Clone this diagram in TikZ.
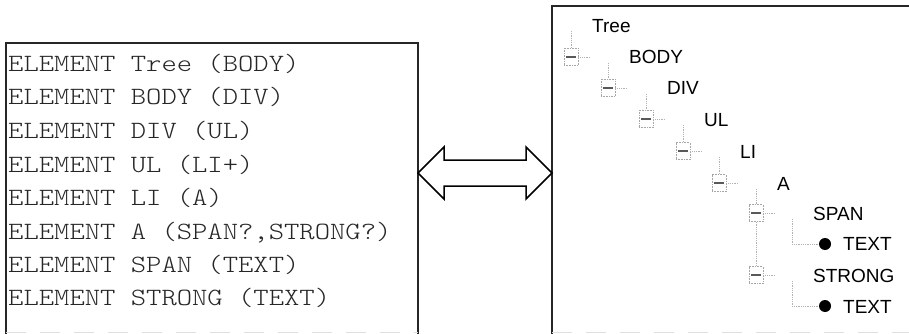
\documentclass[tikz,border=0pt]{standalone}
\usepackage{fontspec}
\newfontfamily\dtdfont{Latin Modern Mono Light}
\newfontfamily\treefont{Liberation Sans}
\begin{document}
\begin{tikzpicture}[x=1pt,y=-1pt,
  dtdline/.style={anchor=base west, inner sep=0pt,
    font=\dtdfont\fontsize{29.2}{32}\selectfont, text=black!85, yscale=0.85},
  treelabel/.style={anchor=base west, inner sep=0pt,
    font=\treefont\fontsize{19}{22}\selectfont, text=black},
  handle/.style={draw=gray!70, densely dotted, line width=0.6pt,
    minimum width=14pt, minimum height=17pt, inner sep=0pt,
    path picture={\fill[black!65]
      ([xshift=-5pt,yshift=-1pt]path picture bounding box.center) rectangle
      ([xshift=5pt,yshift=1pt]path picture bounding box.center);}},
  guide/.style={gray!60, densely dotted, line width=0.8pt},
  leafdot/.style={circle, fill=black, inner sep=0pt, minimum size=12pt},
  frame/.style={line width=1.3pt, black!85},
  cut/.style={gray!25, dash pattern=on 20pt off 14pt, line width=0.8pt},
  blockarrow/.style={line width=1.5pt, black, line join=miter}]
\useasboundingbox (0,0) rectangle (909,334);

% ---- DTD listing panel ----
\draw[frame] (6,334) -- (6,43) -- (418,43) -- (418,334);
\draw[cut] (6,332) -- (418,332);
\begin{scope}[every node/.style={transform shape}]
\node[dtdline] (d1) at (8,72)  {ELEMENT Tree (BODY)};
\node[dtdline] (d2) at (8,105) {ELEMENT BODY (DIV)};
\node[dtdline] (d3) at (8,138) {ELEMENT DIV (UL)};
\node[dtdline] (d4) at (8,172) {ELEMENT UL (LI+)};
\node[dtdline] (d5) at (8,205) {ELEMENT LI (A)};
\node[dtdline] (d6) at (8,239) {ELEMENT A (SPAN?,STRONG?)};
\node[dtdline] (d7) at (8,272) {ELEMENT SPAN (TEXT)};
\node[dtdline] (d8) at (8,305) {ELEMENT STRONG (TEXT)};
\end{scope}

% ---- tree view panel ----
\draw[line width=1.8pt, black!85] (552,334) -- (552,6) -- (909,6);
\draw[cut] (552,332) -- (909,332);

% ---- two-way block arrow between the panels ----
\coordinate (ltip) at (418,173);
\coordinate (rtip) at (552,173);
\draw[blockarrow] (ltip) -- ++(26,-26) -- ++(0,13) -- ++(82,0) -- ++(0,-13)
  -- (rtip) -- ++(-26,26) -- ++(0,-13) -- ++(-82,0) -- ++(0,13) -- cycle;

% tree rows
\node[treelabel] (n-tree)   at (592,33)  {Tree};
\node[treelabel] (n-body)   at (629,64)  {BODY};
\node[treelabel] (n-div)    at (667,95)  {DIV};
\node[treelabel] (n-ul)     at (704,126) {UL};
\node[treelabel] (n-li)     at (740,158) {LI};
\node[treelabel] (n-a)      at (777,190) {A};
\node[treelabel] (n-span)   at (813,220) {SPAN};
\node[treelabel] (n-text1)  at (843,250) {TEXT};
\node[treelabel] (n-strong) at (813,282) {STRONG};
\node[treelabel] (n-text2)  at (843,313) {TEXT};

% expand handles
\node[handle] (h-body)   at (571,57)  {};
\node[handle] (h-div)    at (608,88)  {};
\node[handle] (h-ul)     at (646,119) {};
\node[handle] (h-li)     at (683,151) {};
\node[handle] (h-a)      at (719,183) {};
\node[handle] (h-span)   at (756,213) {};
\node[handle] (h-strong) at (756,275) {};

% leaf markers
\node[leafdot] (b-text1) at (825,244) {};
\node[leafdot] (b-text2) at (825,306) {};

% dotted guide lines
\draw[guide] (571,31)  -- (h-body.north);
\draw[guide] (608,63)  -- (h-div.north);
\draw[guide] (646,94)  -- (h-ul.north);
\draw[guide] (683,125) -- (h-li.north);
\draw[guide] (719,157) -- (h-a.north);
\draw[guide] (756,189) -- (h-span.north);
\draw[guide] (h-span.south) -- (h-strong.north);
\foreach \h in {body,div,ul,li,a,span,strong}
  \draw[guide] (h-\h.east) -- ++(12,0);
\draw[guide] (792,219) |- (b-text1.west);
\draw[guide] (792,281) |- (b-text2.west);
\end{tikzpicture}
\end{document}
